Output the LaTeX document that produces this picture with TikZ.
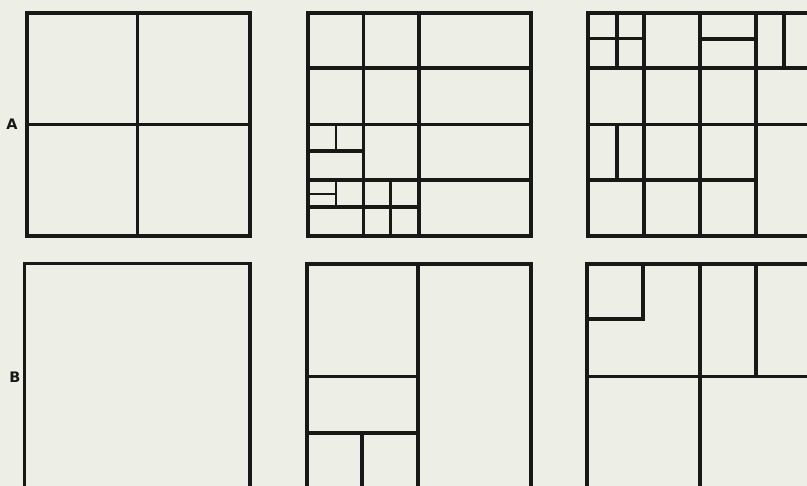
\documentclass[tikz,border=0pt]{standalone}
\usepackage{fontspec}
\setmainfont{DejaVu Sans}
\definecolor{paper}{RGB}{237,239,230}
\definecolor{ink}{RGB}{24,24,22}
\begin{document}
\begin{tikzpicture}[x=1pt,y=-1pt,
  wall/.style={draw=ink,line width=3.3pt,line cap=rect},
  thin/.style={draw=ink,line width=2.6pt,line cap=rect},
  lbl/.style={font=\fontsize{14.5}{14.5}\selectfont\bfseries,text=ink,inner sep=0pt}]
\useasboundingbox (0,0) rectangle (807,486);
\fill[paper] (0,0) rectangle (807,486);
\clip (0,0) rectangle (807,486);
% ---- Row A ----
% A1
\draw[wall] (27,13) rectangle (250,236);
\draw[wall] (27,124.5) -- (250,124.5);
\draw[wall] (137.5,13) -- (137.5,236);
\node[lbl] (labA) at (12,124.5) {A};
% A2
\draw[wall] (308,13) rectangle (531,236);
\draw[wall] (363.5,13) -- (363.5,236);
\draw[wall] (419,13) -- (419,236);
\draw[wall] (308,68) -- (531,68);
\draw[wall] (308,124.5) -- (531,124.5);
\draw[wall] (308,180) -- (531,180);
\draw[wall] (308,151) -- (363.5,151);
\draw[thin] (336,124.5) -- (336,151);
\draw[wall] (308,207) -- (419,207);
\draw[thin] (336,180) -- (336,207);
\draw[thin] (308,194) -- (336,194);
\draw[wall] (390.5,180) -- (390.5,236);
% A3
\draw[wall] (588,13) rectangle (811,236);
\draw[wall] (644,13) -- (644,236);
\draw[wall] (700,13) -- (700,236);
\draw[wall] (756,13) -- (756,236);
\draw[wall] (588,68) -- (811,68);
\draw[wall] (588,124.5) -- (811,124.5);
\draw[wall] (588,180) -- (756,180);
\draw[wall] (617,13) -- (617,68);
\draw[wall] (588,38.5) -- (644,38.5);
\draw[wall] (700,39) -- (756,39);
\draw[wall] (784,13) -- (784,68);
\draw[wall] (617,124.5) -- (617,180);
% ---- Row B ----
% B1
\draw[wall] (24.5,520) -- (24.5,263.5) -- (250,263.5) -- (250,520);
\node[lbl] (labB) at (15,377) {B};
% B2
\draw[wall] (307,520) -- (307,264) -- (531,264) -- (531,520);
\draw[wall] (418,264) -- (418,520);
\draw[wall] (307,376.5) -- (418,376.5);
\draw[wall] (307,433) -- (418,433);
\draw[wall] (362,433) -- (362,520);
% B3
\draw[wall] (587,520) -- (587,264) -- (811,264);
\draw[wall] (700,264) -- (700,520);
\draw[wall] (756,264) -- (756,376.5);
\draw[wall] (587,376.5) -- (811,376.5);
\draw[wall] (643,264) -- (643,319) -- (587,319);
\end{tikzpicture}
\end{document}
